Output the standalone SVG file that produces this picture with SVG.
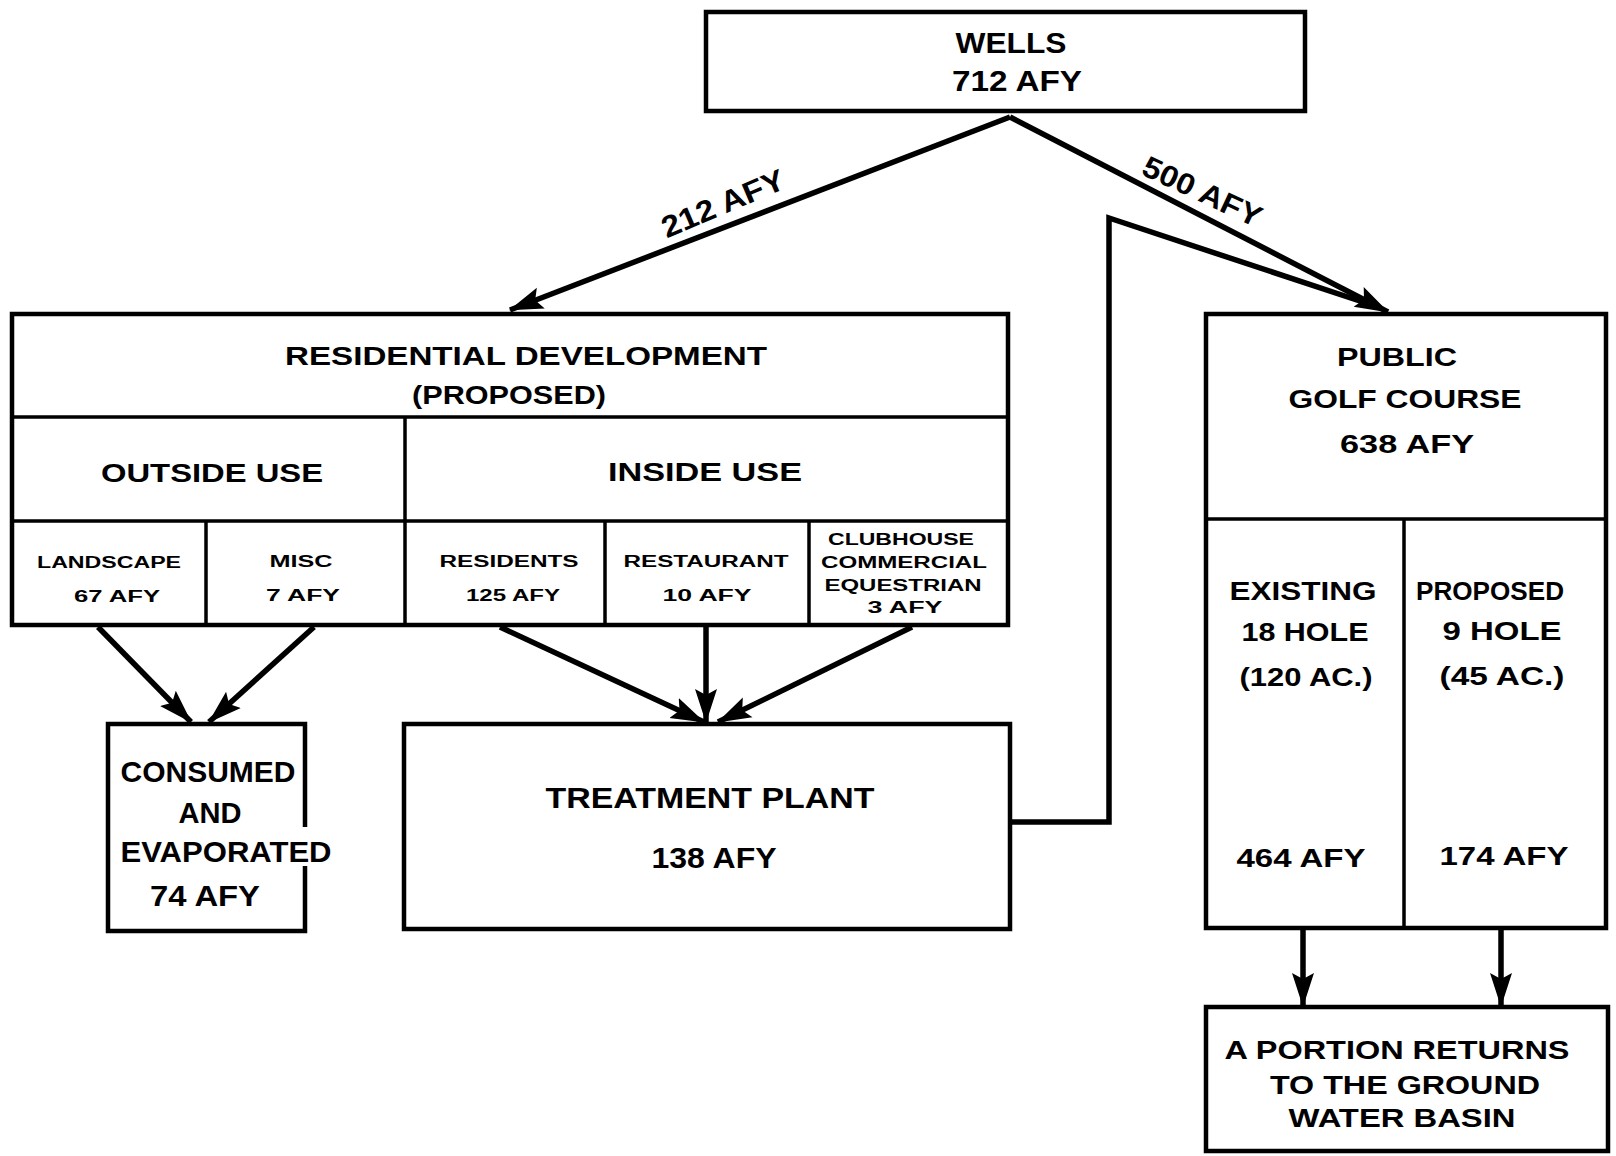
<svg xmlns="http://www.w3.org/2000/svg" width="1616" height="1156" viewBox="0 0 1616 1156">
<style>
.box{fill:#fff;stroke:#000;stroke-width:4.5}
.div{fill:none;stroke:#000;stroke-width:3.5}
.con{fill:none;stroke:#000;stroke-width:5.5;stroke-linejoin:miter}
text{font-family:"Liberation Sans",Arial,sans-serif;fill:#000;text-anchor:middle}
.big{font-size:26px;font-weight:bold}
.sm{font-size:16px;font-weight:bold}
.cond{font-size:30px;font-weight:bold}
</style>
<defs>
<marker id="ah" markerUnits="userSpaceOnUse" markerWidth="34" markerHeight="24" viewBox="0 0 34 24" refX="33" refY="12" orient="auto">
<path d="M0,1 L34,12 L0,23 L6,12 z" fill="#000"/>
</marker>
</defs>
<rect width="1616" height="1156" fill="#fff"/>

<g id="connectors">
<path class="con" d="M1010,117 L510,310" marker-end="url(#ah)"/>
<path class="con" d="M1010,117 L1388,312" marker-end="url(#ah)"/>
<path class="con" d="M1010,822 L1109,822 L1109,218 L1378,307"/>
<path class="con" d="M98,627 L191,722" marker-end="url(#ah)"/>
<path class="con" d="M314,627 L209,722" marker-end="url(#ah)"/>
<path class="con" d="M500,627 L704,722" marker-end="url(#ah)"/>
<path class="con" d="M706,627 L706,722" marker-end="url(#ah)"/>
<path class="con" d="M912,627 L718,722" marker-end="url(#ah)"/>
<path class="con" d="M1303,930 L1303,1006" marker-end="url(#ah)"/>
<path class="con" d="M1501,930 L1501,1006" marker-end="url(#ah)"/>
<text class="cond" transform="translate(727,213) rotate(-23)" textLength="131" lengthAdjust="spacingAndGlyphs">212 AFY</text>
<text class="cond" transform="translate(1198,201) rotate(25)" textLength="128" lengthAdjust="spacingAndGlyphs">500 AFY</text>
</g>

<g id="wells">
<rect class="box" x="706" y="12" width="599" height="99"/>
<text class="cond" x="1011" y="53" textLength="111" lengthAdjust="spacingAndGlyphs">WELLS</text>
<text class="cond" x="1017" y="91" textLength="130" lengthAdjust="spacingAndGlyphs">712  AFY</text>
</g>

<g id="residential">
<rect class="box" x="12" y="314" width="996" height="311"/>
<path class="div" d="M12,417 L1008,417 M12,521 L1008,521 M405,417 L405,625 M206,521 L206,625 M605,521 L605,625 M809,521 L809,625"/>
<text class="big" x="526" y="365" textLength="482" lengthAdjust="spacingAndGlyphs">RESIDENTIAL  DEVELOPMENT</text>
<text class="big" x="509" y="404" textLength="194" lengthAdjust="spacingAndGlyphs">(PROPOSED)</text>
</g>

<g id="outside-use">
<text class="big" x="212" y="482" textLength="222" lengthAdjust="spacingAndGlyphs">OUTSIDE USE</text>
</g>
<g id="inside-use">
<text class="big" x="705" y="481" textLength="194" lengthAdjust="spacingAndGlyphs">INSIDE USE</text>
</g>
<g id="landscape">
<text class="sm" x="109" y="568" textLength="144" lengthAdjust="spacingAndGlyphs">LANDSCAPE</text>
<text class="sm" x="117" y="602" textLength="86" lengthAdjust="spacingAndGlyphs">67 AFY</text>
</g>
<g id="misc">
<text class="sm" x="301" y="567" textLength="63" lengthAdjust="spacingAndGlyphs">MISC</text>
<text class="sm" x="303" y="601" textLength="74" lengthAdjust="spacingAndGlyphs">7 AFY</text>
</g>
<g id="residents">
<text class="sm" x="509" y="567" textLength="139" lengthAdjust="spacingAndGlyphs">RESIDENTS</text>
<text class="sm" x="513" y="601" textLength="94" lengthAdjust="spacingAndGlyphs">125 AFY</text>
</g>
<g id="restaurant">
<text class="sm" x="706" y="567" textLength="165" lengthAdjust="spacingAndGlyphs">RESTAURANT</text>
<text class="sm" x="707" y="601" textLength="89" lengthAdjust="spacingAndGlyphs">10 AFY</text>
</g>
<g id="clubhouse">
<text class="sm" x="901" y="545" textLength="146" lengthAdjust="spacingAndGlyphs">CLUBHOUSE</text>
<text class="sm" x="904" y="568" textLength="166" lengthAdjust="spacingAndGlyphs">COMMERCIAL</text>
<text class="sm" x="903" y="591" textLength="157" lengthAdjust="spacingAndGlyphs">EQUESTRIAN</text>
<text class="sm" x="905" y="613" textLength="75" lengthAdjust="spacingAndGlyphs">3 AFY</text>
</g>

<g id="consumed">
<path class="div" d="M305,827 L305,724 L108,724 L108,931 L305,931 L305,866" style="stroke-width:4.5"/>
<text class="cond" x="208" y="782" textLength="175" lengthAdjust="spacingAndGlyphs">CONSUMED</text>
<text class="cond" x="210" y="823" textLength="63" lengthAdjust="spacingAndGlyphs">AND</text>
<text class="cond" x="226" y="862" textLength="211" lengthAdjust="spacingAndGlyphs">EVAPORATED</text>
<text class="cond" x="205" y="906" textLength="110" lengthAdjust="spacingAndGlyphs">74 AFY</text>
</g>

<g id="treatment-plant">
<rect class="box" x="404" y="724" width="606" height="205"/>
<text class="cond" x="710" y="808" textLength="329" lengthAdjust="spacingAndGlyphs">TREATMENT  PLANT</text>
<text class="cond" x="714" y="868" textLength="125" lengthAdjust="spacingAndGlyphs">138  AFY</text>
</g>

<g id="golf-course">
<rect class="box" x="1206" y="314" width="400" height="614"/>
<path class="div" d="M1206,519 L1606,519 M1404,519 L1404,928"/>
<text class="big" x="1397" y="366" textLength="120" lengthAdjust="spacingAndGlyphs">PUBLIC</text>
<text class="big" x="1405" y="408" textLength="233" lengthAdjust="spacingAndGlyphs">GOLF  COURSE</text>
<text class="big" x="1407" y="453" textLength="134" lengthAdjust="spacingAndGlyphs">638  AFY</text>
</g>
<g id="existing">
<text class="big" x="1303" y="600" textLength="147" lengthAdjust="spacingAndGlyphs">EXISTING</text>
<text class="big" x="1305" y="641" textLength="127" lengthAdjust="spacingAndGlyphs">18  HOLE</text>
<text class="big" x="1306" y="686" textLength="133" lengthAdjust="spacingAndGlyphs">(120  AC.)</text>
<text class="big" x="1301" y="867" textLength="129" lengthAdjust="spacingAndGlyphs">464  AFY</text>
</g>
<g id="proposed">
<text class="big" x="1490" y="600" textLength="148" lengthAdjust="spacingAndGlyphs">PROPOSED</text>
<text class="big" x="1502" y="640" textLength="119" lengthAdjust="spacingAndGlyphs">9  HOLE</text>
<text class="big" x="1502" y="685" textLength="125" lengthAdjust="spacingAndGlyphs">(45  AC.)</text>
<text class="big" x="1504" y="865" textLength="129" lengthAdjust="spacingAndGlyphs">174  AFY</text>
</g>

<g id="ground-water">
<rect class="box" x="1206" y="1007" width="402" height="144"/>
<text class="big" x="1397" y="1059" textLength="345" lengthAdjust="spacingAndGlyphs">A  PORTION  RETURNS</text>
<text class="big" x="1405" y="1094" textLength="270" lengthAdjust="spacingAndGlyphs">TO  THE  GROUND</text>
<text class="big" x="1402" y="1127" textLength="227" lengthAdjust="spacingAndGlyphs">WATER  BASIN</text>
</g>
</svg>
